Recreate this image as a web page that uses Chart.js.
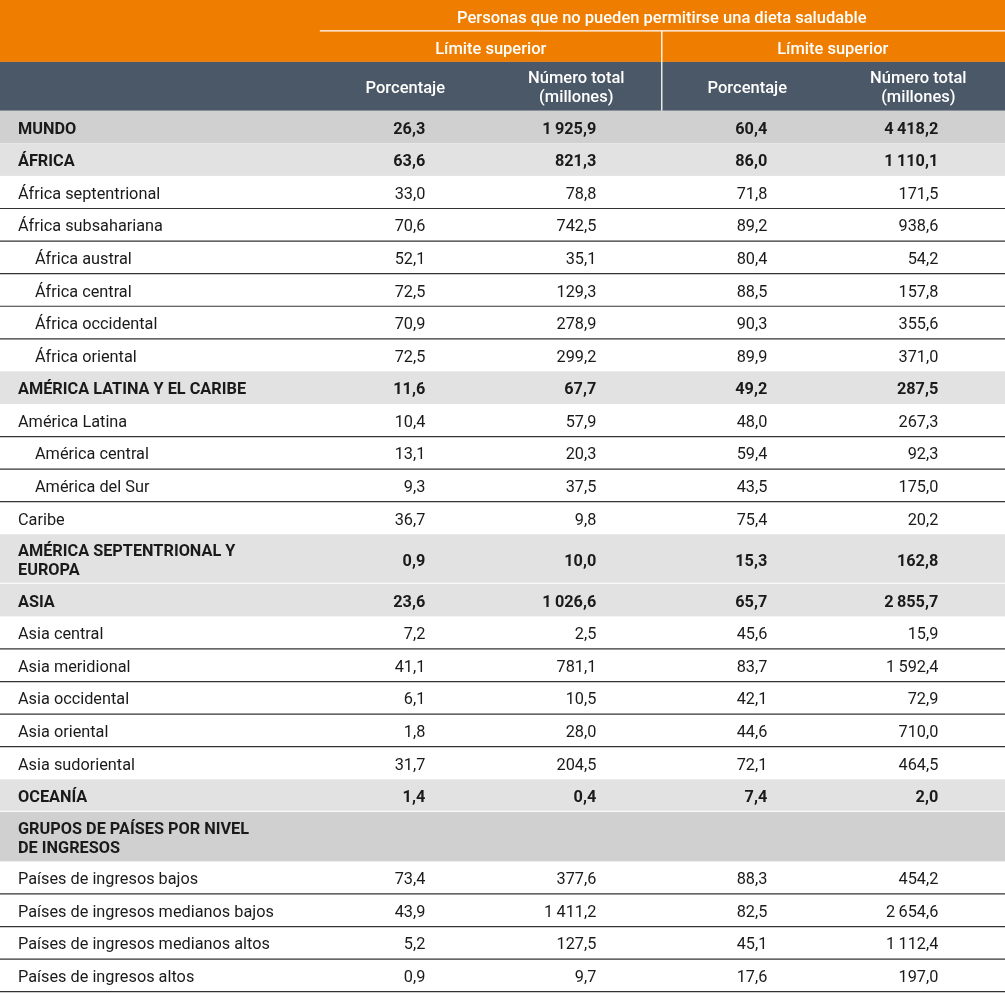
<!DOCTYPE html>
<html>
<head>
<meta charset="utf-8">
<script src="https://cdn.jsdelivr.net/npm/chart.js@4/dist/chart.umd.min.js"></script>
<style>
html,body{margin:0;padding:0;background:#fff}
#wrap{width:1005px;height:993px;position:relative}
</style>
</head>
<body>
<div id="wrap"><canvas id="tbl"></canvas></div>
<script>
// table content
const titleText = "Personas que no pueden permitirse una dieta saludable";
const groupHeaders = ["Límite superior", "Límite superior"];
const colHeaders = ["Porcentaje", "Número total\n(millones)", "Porcentaje", "Número total\n(millones)"];

const rowLabels = [
"MUNDO","ÁFRICA","África septentrional","África subsahariana","África austral","África central",
"África occidental","África oriental","AMÉRICA LATINA Y EL CARIBE","América Latina","América central",
"América del Sur","Caribe","AMÉRICA SEPTENTRIONAL Y\nEUROPA","ASIA","Asia central","Asia meridional",
"Asia occidental","Asia oriental","Asia sudoriental","OCEANÍA","GRUPOS DE PAÍSES POR NIVEL\nDE INGRESOS",
"Países de ingresos bajos","Países de ingresos medianos bajos","Países de ingresos medianos altos","Países de ingresos altos"
];
// total / region / sub / subsub / group
const rowLevels = [
"total","region","sub","sub","subsub","subsub","subsub","subsub","region","sub","subsub",
"subsub","sub","region","region","sub","sub","sub","sub","sub","region","group",
"sub","sub","sub","sub"
];
const pctLow = [26.3,63.6,33.0,70.6,52.1,72.5,70.9,72.5,11.6,10.4,13.1,9.3,36.7,0.9,23.6,7.2,41.1,6.1,1.8,31.7,1.4,null,73.4,43.9,5.2,0.9];
const totLow = [1925.9,821.3,78.8,742.5,35.1,129.3,278.9,299.2,67.7,57.9,20.3,37.5,9.8,10.0,1026.6,2.5,781.1,10.5,28.0,204.5,0.4,null,377.6,1411.2,127.5,9.7];
const pctHigh = [60.4,86.0,71.8,89.2,80.4,88.5,90.3,89.9,49.2,48.0,59.4,43.5,75.4,15.3,65.7,45.6,83.7,42.1,44.6,72.1,7.4,null,88.3,82.5,45.1,17.6];
const totHigh = [4418.2,1110.1,171.5,938.6,54.2,157.8,355.6,371.0,287.5,267.3,92.3,175.0,20.2,162.8,2855.7,15.9,1592.4,72.9,710.0,464.5,2.0,null,454.2,2654.6,1112.4,197.0];

const ORANGE = "#ef7d00";
const SLATE = "#4b5867";
const GREY_DARK = "#d0d0d0";
const GREY_LIGHT = "#e2e2e2";
const FONT = "Roboto, 'Liberation Sans', sans-serif";

function fmt(v){
  if(v===null||v===undefined) return "";
  let parts = v.toFixed(1).split(".");
  let i = parts[0].replace(/\B(?=(\d{3})+(?!\d))/g,"\u2009");
  return i+","+parts[1];
}

// vertical layout in "row units"
const orangeH = 1.9, slateH = 1.5;
const headH = orangeH + slateH;
const rowH = rowLabels.map(l => l.includes("\n") ? 1.52 : 1);
let rowTop = [];
let acc = headH;
rowH.forEach(h => { rowTop.push(acc); acc += h; });
const yMax = acc + 0.04;

// horizontal layout in "column units"
const labelW = 1.87;
const xMax = labelW + 4.007;

const tablePlugin = {
  id:"tablePlugin",
  beforeDraw(chart){
    const ctx = chart.ctx;
    const x = chart.scales.x, y = chart.scales.y;
    const px = v => x.getPixelForValue(v);
    const py = v => y.getPixelForValue(v);
    const left = px(0), right = px(xMax);
    const colL = i => px(labelW + i);
    const colC = i => px(labelW + i + 0.5);
    const numX = i => colC(i) + 20;
    const dy = 2.5;

    ctx.save();
    ctx.fillStyle = "#fff";
    ctx.fillRect(0,0,chart.width,chart.height);

    // header bands
    ctx.fillStyle = ORANGE;
    ctx.fillRect(left, py(0), right-left, py(orangeH)-py(0));
    ctx.fillStyle = SLATE;
    ctx.fillRect(left, py(orangeH), right-left, py(headH)-py(orangeH));

    ctx.strokeStyle = "#fff";
    ctx.lineWidth = 1.3;
    ctx.beginPath();
    ctx.moveTo(colL(0), py(0.95)); ctx.lineTo(right, py(0.95));
    ctx.moveTo(colL(2), py(0.95)); ctx.lineTo(colL(2), py(headH));
    ctx.stroke();

    ctx.fillStyle = "#fff";
    ctx.textBaseline = "middle";
    ctx.textAlign = "center";
    ctx.font = "500 16.5px " + FONT;
    ctx.fillText(titleText, colL(2), py(0.5) + dy);
    groupHeaders.forEach((g,i) => ctx.fillText(g, colL(2*i+1), py(1.45) + dy));
    colHeaders.forEach((h,i) => {
      const lines = h.split("\n");
      const mid = py(orangeH + slateH/2) + dy;
      lines.forEach((ln,k) => ctx.fillText(ln, colC(i), mid + (k-(lines.length-1)/2)*19));
    });

    // rows
    rowLabels.forEach((lab,r) => {
      const lvl = rowLevels[r];
      const t = py(rowTop[r]), b = py(rowTop[r]+rowH[r]);
      let bg = null;
      if(lvl==="total"||lvl==="group") bg = GREY_DARK;
      else if(lvl==="region") bg = GREY_LIGHT;
      if(bg){ ctx.fillStyle = bg; ctx.fillRect(left, t, right-left, b-t); }

      const bold = (lvl==="total"||lvl==="region"||lvl==="group");
      ctx.font = (bold ? "bold 16.3px " : "16.3px ") + FONT;
      ctx.fillStyle = "#1a1a1a";
      ctx.textAlign = "left";
      const mid = (t+b)/2 + dy;
      const lines = lab.split("\n");
      const tx = left + (lvl==="subsub" ? 35 : 18);
      lines.forEach((ln,k) => ctx.fillText(ln, tx, mid + (k-(lines.length-1)/2)*19));

      ctx.textAlign = "right";
      [pctLow, totLow, pctHigh, totHigh].forEach((arr,i) => {
        ctx.fillText(fmt(arr[r]), numX(i), mid);
      });

      // separators
      const next = rowLevels[r+1];
      const white = l => l==="sub"||l==="subsub";
      if(white(lvl) && (next===undefined || white(next))){
        ctx.strokeStyle = "#333";
        ctx.lineWidth = 1.2;
        ctx.beginPath(); ctx.moveTo(left, b); ctx.lineTo(right, b); ctx.stroke();
      } else if((lvl==="region") && (next==="region"||next==="group")){
        ctx.strokeStyle = "#fff";
        ctx.lineWidth = 2;
        ctx.beginPath(); ctx.moveTo(left, b); ctx.lineTo(right, b); ctx.stroke();
      }
    });
    ctx.restore();
  }
};

new Chart(document.getElementById("tbl"), {
  type:"scatter",
  data:{datasets:[{data:[]}]},
  options:{
    responsive:true,
    maintainAspectRatio:false,
    animation:false,
    layout:{padding:0},
    plugins:{legend:{display:false},tooltip:{enabled:false}},
    scales:{
      x:{type:"linear",min:0,max:xMax,display:false},
      y:{type:"linear",min:0,max:yMax,reverse:true,display:false}
    }
  },
  plugins:[tablePlugin]
});
</script>
</body>
</html>
